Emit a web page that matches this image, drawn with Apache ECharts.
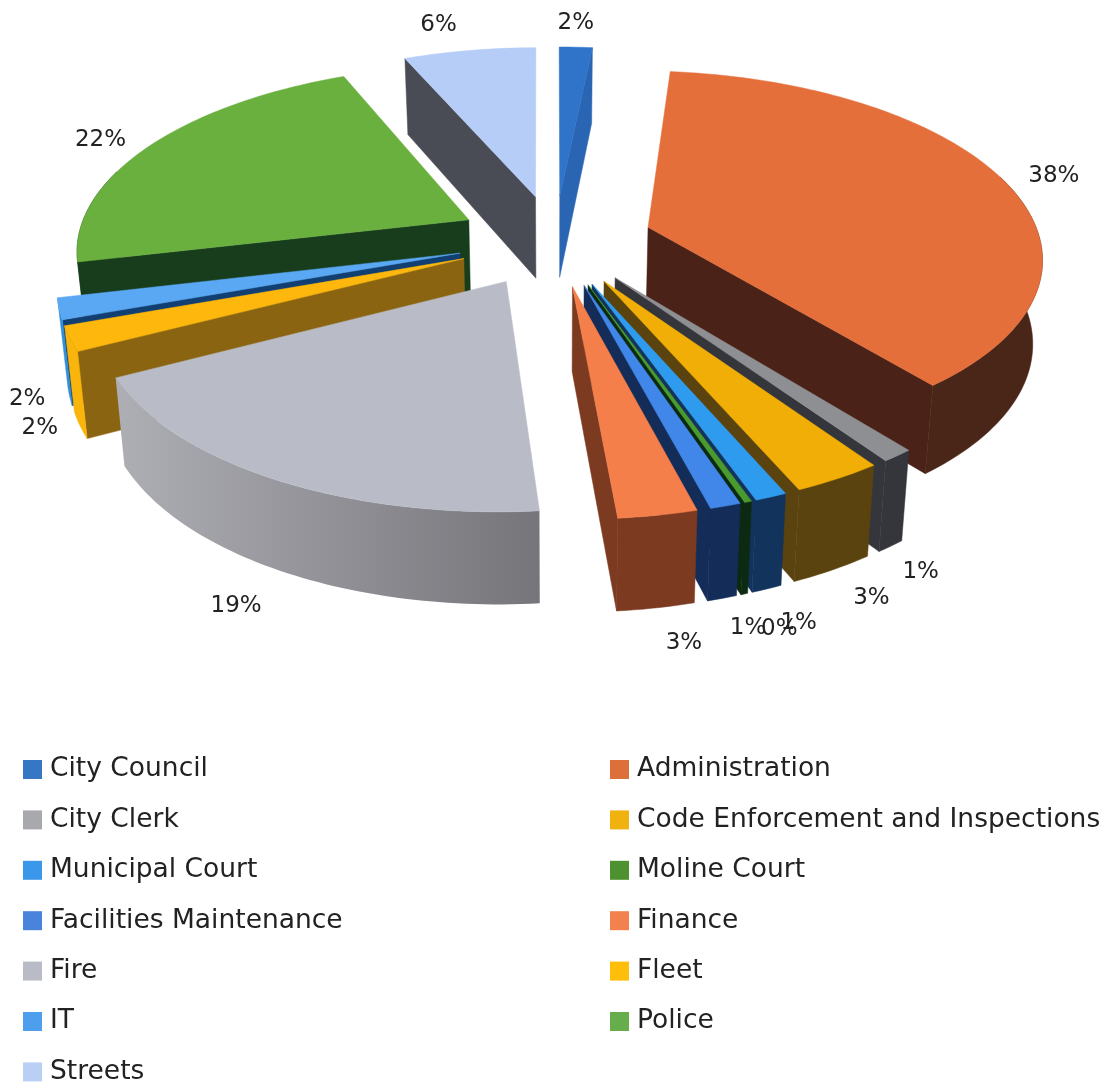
<!DOCTYPE html>
<html><head><meta charset="utf-8">
<style>html,body{margin:0;padding:0;background:#fff}#c{width:1111px;height:1087px}</style>
<script src="https://cdn.jsdelivr.net/npm/echarts@6/dist/echarts.min.js"></script>
</head><body><div id="c"></div>
<script>
// ---- data (percent of total, clockwise from 12 o'clock)
const departments = ['City Council','Administration','City Clerk','Code Enforcement and Inspections','Municipal Court','Moline Court','Facilities Maintenance','Finance','Fire','Fleet','IT','Police','Streets'];
const shares = [1.6,37.7,1.1,3.1,1.1,0.25,1.05,2.7,18.8,2.1,1.8,22.2,6.4];
const legendLeft = ['City Council','City Clerk','Municipal Court','Facilities Maintenance','Fire','IT','Streets'];
const legendRight = ['Administration','Code Enforcement and Inspections','Moline Court','Finance','Fleet','Police'];

// ---- styles
const topColors = ['#2f74c8','#e56f3a','#8e8f93','#f0ae06','#2f9bef','#4a9a2e','#4187ea','#f57f4b','#b9bcc7','#fdb70d','#5aa8f3','#6ab03f','#b5cdf7'];
const wallColors = ['#2a65b4','#4a2218','#34363c','#5a430f','#12335c','#0c2a12','#142c58','#7c3a20','#8f8f96','#8a6411','#123f72','#173d1c','#4a4c55'];
const rimColors = ['#2a65b4','#4a2618','#34363c','#5a430f','#12335c','#0c2a12','#142c58','#7c3a20',['#aeaeb5','#75757a'],'#f9b50b','#2f8fd8','#173d1c','#4a4c55'];
const swatchColors = ['#3577c4','#dd7039','#a8a9ad','#efb20f','#3b97ea','#4e9130','#4a83dc','#f2814f','#b9bcc6','#ffbe0a','#4d9fee','#68ad4b','#b9d0f4'];
const labelNudge = [[0,-24],[52,-3],[30,26],[39,28],[32,34],[35,35],[26,30],[28,35],[-43,36],[-40,3],[-42,5],[-50,-5],[-31,-25]];

// ---- 3D pie view
const view = {cx:555, cy:240, fx:392, fy:182.9, k:0.1475, explode:0.25, depth:83, depthPow:0.55, taper:0.98};
const font = '"DejaVu Sans"';
const total = 100;
const TAU = Math.PI*2;

const starts = []; shares.reduce((a,v,i)=>{starts[i]=a; return a+v;},0);
const ang = p => p/total*TAU;

function topPt(X,Y){ const s=1/(1+view.k*Y); return [view.cx+view.fx*X*s, view.cy-view.fy*Y*s]; }
function botPt(X,Y){ const s=1/(1+view.k*Y), p=topPt(X,Y);
  return [view.cx+(p[0]-view.cx)*view.taper, p[1]+view.depth*Math.pow(s,view.depthPow)]; }

function sliceShapes(i){
  const t0=ang(starts[i]), t1=ang(starts[i]+shares[i]), b=(t0+t1)/2;
  const ax=view.explode*Math.sin(b), ay=view.explode*Math.cos(b);
  const rim=t=>[ax+Math.sin(t), ay+Math.cos(t)];
  const n=Math.max(2,Math.ceil((t1-t0)/0.02));
  const ts=[]; for(let j=0;j<=n;j++) ts.push(t0+(t1-t0)*j/n);
  const A=topPt(ax,ay), Ab=botPt(ax,ay), out=[];
  const faces=(E,other)=>{ // radial wall seen from the viewer?
    const P=topPt(...rim(other)); const B=topPt(...E);
    if(Math.abs(B[0]-A[0])<2) return false;
    const ly=A[1]+(B[1]-A[1])*(P[0]-A[0])/(B[0]-A[0]);
    return P[1]<ly;
  };
  [[t0,t1],[t1,t0]].forEach(([t,o])=>{
    const E=rim(t);
    if(faces(E,o)) out.push({type:'polygon',shape:{points:[A,topPt(...E),botPt(...E),Ab]},style:{fill:wallColors[i],stroke:wallColors[i],lineWidth:0.5}});
  });
  // outer wall, only where it faces the viewer
  const vis=ts.filter(t=>Math.cos(t)<0.3);
  if(vis.length>1){
    const pts=vis.map(t=>topPt(...rim(t))).concat(vis.slice().reverse().map(t=>botPt(...rim(t))));
    const c=rimColors[i];
    const fill=Array.isArray(c)?new echarts.graphic.LinearGradient(0,0,1,0,[{offset:0,color:c[0]},{offset:1,color:c[1]}]):c;
    out.push({type:'polygon',shape:{points:pts},style:{fill:fill,stroke:Array.isArray(c)?null:c,lineWidth:0.5}});
  }
  out.push({type:'polygon',shape:{points:[A].concat(ts.map(t=>topPt(...rim(t))))},style:{fill:topColors[i],stroke:topColors[i],lineWidth:0.5}});
  // percent label
  const E=rim(b), back=Math.cos(b)>0;
  const L=back?topPt(...E):botPt(...E);
  out.push({type:'text',z2:50,style:{text:Math.round(shares[i])+'%',x:L[0]+labelNudge[i][0],y:L[1]+labelNudge[i][1],
    textAlign:'center',textVerticalAlign:'middle',fill:'#222',font:'400 23px '+font}});
  return out;
}

const order = departments.map((_,i)=>i).sort((p,q)=>{
  const m=i=>Math.cos(ang(starts[i]+shares[i]/2)); return m(q)-m(p);
});
const series = order.map(i=>({
  type:'custom', name:departments[i], coordinateSystem:'none', silent:true, animation:false,
  itemStyle:{color:swatchColors[i]}, data:[shares[i]],
  renderItem:()=>({type:'group',children:sliceShapes(i)})
}));
const legendBase = {orient:'vertical',selectedMode:false,icon:'rect',itemWidth:19,itemHeight:19,itemGap:23.4,
  textStyle:{fontFamily:font,fontSize:26.5,color:'#222',padding:[0,0,0,3]}};
const chart = echarts.init(document.getElementById('c'),null,{renderer:'canvas'});
chart.setOption({animation:false,backgroundColor:'#fff',
  legend:[Object.assign({},legendBase,{left:23,top:756,height:400,padding:0,data:legendLeft}),
          Object.assign({},legendBase,{left:610,top:756,height:400,padding:0,data:legendRight})],
  series:series});
</script></body></html>
